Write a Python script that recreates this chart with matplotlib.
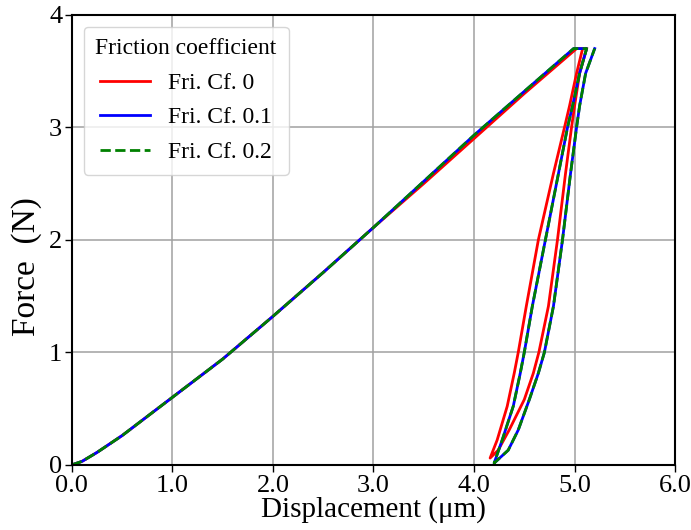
import matplotlib.pyplot as plt

plt.rcParams['font.family'] = ['Liberation Serif', 'DejaVu Serif']

# loading curve, Fri. Cf. 0.1 / 0.2
load_disp = [0.0, 0.1, 0.25, 0.5, 0.75, 1.0, 1.25, 1.5, 1.75, 2.0, 2.5, 3.0, 3.5, 4.0, 4.5, 4.99]
load_force = [0.0, 0.03, 0.11, 0.26, 0.43, 0.60, 0.77, 0.94, 1.13, 1.32, 1.71, 2.11, 2.52, 2.93, 3.32, 3.70]
# loading curve, Fri. Cf. 0
load_disp_f0 = [0.0, 0.1, 0.25, 0.5, 0.75, 1.0, 1.25, 1.5, 1.75, 2.0, 2.5, 3.0, 3.5, 4.0, 4.5, 5.02]
load_force_f0 = [0.0, 0.03, 0.11, 0.26, 0.43, 0.60, 0.77, 0.94, 1.13, 1.32, 1.71, 2.11, 2.50, 2.90, 3.30, 3.70]

# unloading branch (left), starts at the end of the hold
unload_force = [3.70, 3.48, 3.19, 3.00, 2.59, 2.00, 1.41, 1.00, 0.815, 0.52, 0.22]
unload_disp_f0 = [5.08, 5.02, 4.95, 4.90, 4.79, 4.64, 4.52, 4.44, 4.40, 4.33, 4.23]
unload_disp_f1 = [5.12, 5.05, 4.98, 4.93, 4.84, 4.71, 4.58, 4.50, 4.46, 4.39, 4.28]

tip_f0 = (4.16, 0.06)
tip_f1 = (4.20, 0.015)

# reloading branch (right)
reload_force = [0.13, 0.31, 0.58, 0.815, 1.00, 1.41, 2.00, 2.59, 3.00, 3.19, 3.48, 3.70]
reload_disp_f0 = [4.24, 4.35, 4.50, 4.59, 4.645, 4.74, 4.83, 4.91, 4.97, 5.00, 5.05, 5.12]
reload_disp_f1 = [4.34, 4.44, 4.55, 4.64, 4.70, 4.79, 4.88, 4.96, 5.02, 5.05, 5.11, 5.20]


def full_curve(ld, lf, ud, tip, rd):
    x = ld + ud + [tip[0]] + rd
    y = lf + unload_force + [tip[1]] + reload_force
    return x, y


fig = plt.figure(figsize=(6.91, 5.30), dpi=100)
ax = fig.add_axes([0.104, 0.123, 0.873, 0.849])

x0, y0 = full_curve(load_disp_f0, load_force_f0, unload_disp_f0, tip_f0, reload_disp_f0)
x1, y1 = full_curve(load_disp, load_force, unload_disp_f1, tip_f1, reload_disp_f1)

ax.plot(x0, y0, color='#ff0000', lw=2, label='Fri. Cf. 0')
ax.plot(x1, y1, color='#0000ff', lw=2, label='Fri. Cf. 0.1')
ax.plot(x1, y1, color='#008000', lw=2, ls='--', label='Fri. Cf. 0.2')

ax.set_xlim(0, 6)
ax.set_ylim(0, 4)
ax.set_xticks([0, 1, 2, 3, 4, 5, 6])
ax.set_xticklabels(['0.0', '1.0', '2.0', '3.0', '4.0', '5.0', '6.0'])
ax.set_yticks([0, 1, 2, 3, 4])
ax.tick_params(labelsize=19, length=5, width=1, pad=2)
ax.grid(True, color='#a0a0a0', lw=1.1)
for s in ax.spines.values():
    s.set_linewidth(1.5)

ax.set_xlabel('Displacement (μm)', fontsize=21, labelpad=0)
ax.set_ylabel('Force  (N)', fontsize=24)
ax.yaxis.set_label_coords(-0.05, 0.44)

leg = ax.legend(title='Friction coefficient', fontsize=17, title_fontsize=17,
                loc='upper left', handlelength=2.1, handletextpad=0.8,
                borderpad=0.5, labelspacing=0.55, borderaxespad=0.5)

fig.savefig('out.png', dpi=100)
